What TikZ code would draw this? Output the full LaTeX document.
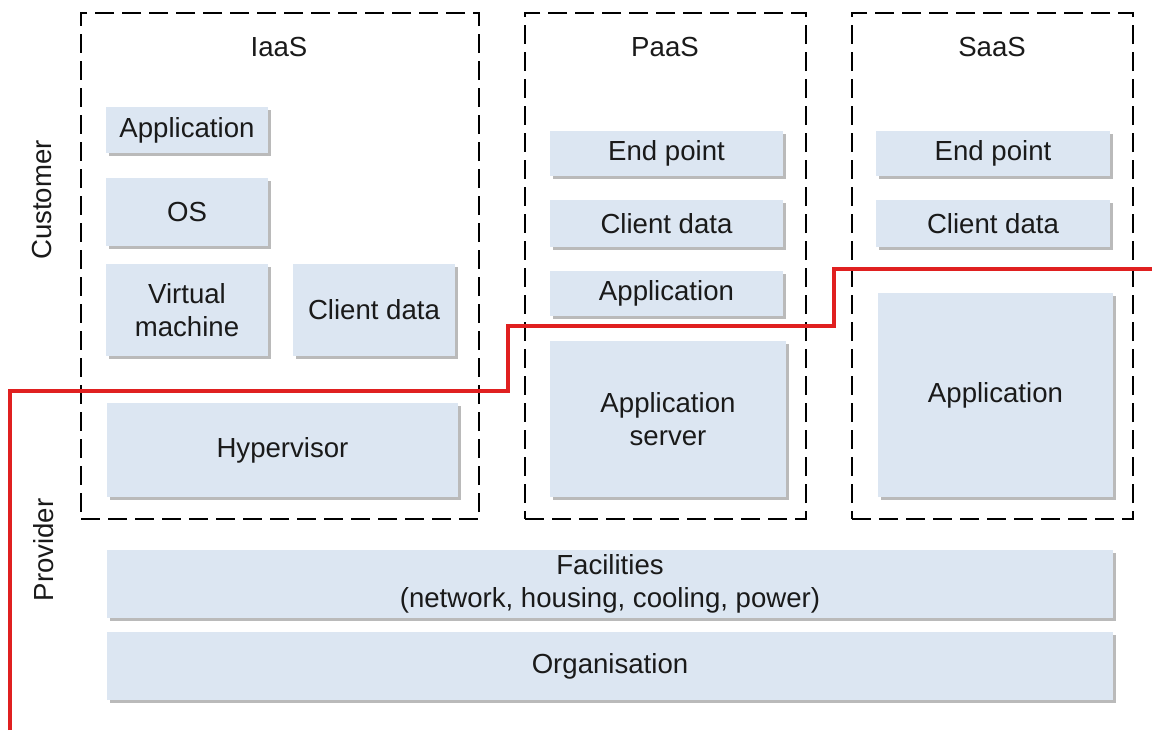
\documentclass[tikz,border=0pt]{standalone}
\usepackage{fontspec}
\setmainfont{Liberation Sans}
\usetikzlibrary{shadows,fit}
\definecolor{boxfill}{HTML}{DCE6F2}
\definecolor{redline}{HTML}{E02020}
\definecolor{txt}{HTML}{1A1A1A}
\begin{document}
\begin{tikzpicture}[x=0.5pt,y=-0.5pt,
  every node/.style={font=\fontsize{13.8}{16.5}\selectfont, text=txt},
  bx/.style={rectangle, fill=boxfill, inner sep=0pt, align=center,
    drop shadow={shadow xshift=1.5pt, shadow yshift=-1.5pt, fill=black!45, opacity=0.6}},
  dbox/.style={draw=black, line width=1.3pt, dash pattern=on 9.5pt off 4pt, inner sep=0pt},
  lbl/.style={inner sep=0pt},
  split/.style={draw=redline, line width=1.6pt}]
\useasboundingbox (0,0) rectangle (1152,730);
\fill[white] (0,0) rectangle (1152,730);
% dashed containers
\node[dbox, fit={(81,13) (479,519)}] (iaas) {};
\node[dbox, fit={(525,13) (806,519)}] (paas) {};
\node[dbox, fit={(852,13) (1133,519)}] (saas) {};
\node[lbl] (iaasl) at (279,47) {IaaS};
\node[lbl] (paasl) at (665,47) {PaaS};
\node[lbl] (saasl) at (992,47) {SaaS};
\node[lbl, rotate=90] (cust) at (42,200) {Customer};
\node[lbl, rotate=90] (prov) at (44,550) {Provider};
% IaaS boxes
\node[bx, minimum width=81pt, minimum height=23pt] (app1) at (187,130) {Application};
\node[bx, minimum width=81pt, minimum height=34pt] (os1) at (187,212) {OS};
\node[bx, minimum width=81pt, minimum height=46pt] (vm1) at (187,310) {Virtual\\machine};
\node[bx, minimum width=81pt, minimum height=46pt] (cd1) at (374,310) {Client data};
\node[bx, minimum width=175.5pt, minimum height=47pt] (hyp1) at (282.5,450) {Hypervisor};
% PaaS boxes
\node[bx, minimum width=116.5pt, minimum height=22.5pt] (ep2) at (666.5,153.5) {End point};
\node[bx, minimum width=116.5pt, minimum height=23.5pt] (cd2) at (666.5,223.5) {Client data};
\node[bx, minimum width=116.5pt, minimum height=22.5pt] (app2) at (666.5,293.5) {Application};
\node[bx, minimum width=118pt, minimum height=78pt] (as2) at (668,419) {Application\\server};
% SaaS boxes
\node[bx, minimum width=117pt, minimum height=22.5pt] (ep3) at (993,153.5) {End point};
\node[bx, minimum width=117pt, minimum height=23.5pt] (cd3) at (993,223.5) {Client data};
\node[bx, minimum width=117.5pt, minimum height=102pt] (app3) at (995.5,395) {Application};
% provider layers
\node[bx, minimum width=503pt, minimum height=34pt] (fac) at (610,584) {Facilities\\(network, housing, cooling, power)};
\node[bx, minimum width=503pt, minimum height=34pt] (org) at (610,666) {Organisation};
% red split line
\coordinate (r0) at (10,730);
\coordinate (r6) at (1152,269);
\draw[split] (r0) -- (10,391) -- (508,391) -- (508,326) -- (834,326) -- (834,269) -- (r6);
\end{tikzpicture}
\end{document}
